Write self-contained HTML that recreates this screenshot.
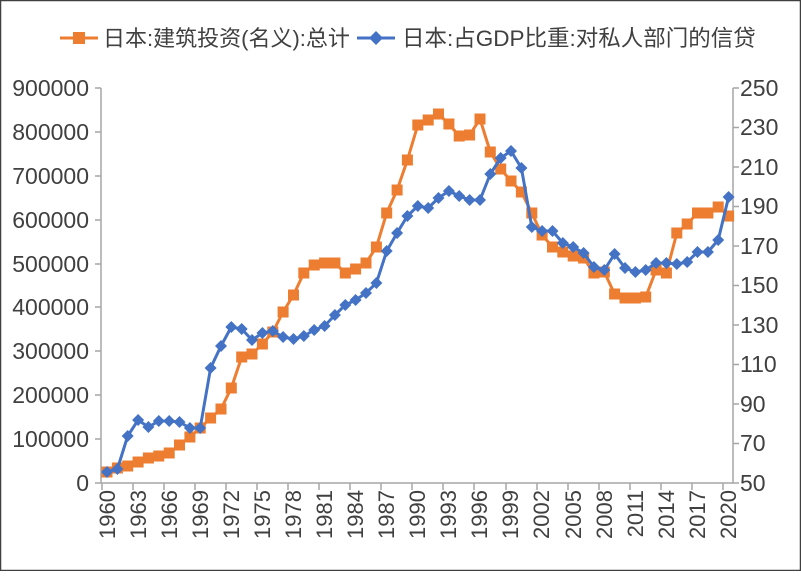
<!DOCTYPE html>
<html><head><meta charset="utf-8"><style>
body{margin:0;background:#fff}
svg text{font-family:"Liberation Sans","Noto Sans CJK SC",sans-serif;fill:#404040}
</style></head><body>
<svg width="801" height="571" viewBox="0 0 801 571" xmlns="http://www.w3.org/2000/svg">
<defs>
<marker id="sq" markerUnits="userSpaceOnUse" markerWidth="12" markerHeight="12" refX="6" refY="6" overflow="visible"><rect x="0.5" y="0.5" width="11" height="11" fill="#ED7D31"/></marker>
<marker id="dm" markerUnits="userSpaceOnUse" markerWidth="12" markerHeight="12" refX="6" refY="6" overflow="visible"><polygon points="6,0 12,6 6,12 0,6" fill="#4472C4"/></marker>
</defs>
<rect x="0.5" y="0.5" width="800" height="570" fill="#fff" stroke="#404040" stroke-width="1.5"/>
<!-- legend -->
<line x1="60" y1="38" x2="98" y2="38" stroke="#ED7D31" stroke-width="3"/>
<rect x="73" y="32" width="12" height="12" fill="#ED7D31"/>
<text x="103" y="46" font-size="22">日本:建筑投资(名义):总计</text>
<line x1="357" y1="38" x2="395" y2="38" stroke="#4472C4" stroke-width="3"/>
<polygon points="376,31 383,38 376,45 369,38" fill="#4472C4"/>
<text x="402" y="46" font-size="22.5">日本:占GDP比重:对私人部门的信贷</text>
<!-- axes -->
<g stroke="#a6a6a6" stroke-width="1.5" fill="none">
<line x1="101" y1="88" x2="101" y2="483"/>
<line x1="733" y1="88" x2="733" y2="483"/>
<line x1="101" y1="483" x2="733" y2="483"/>
<path d="M95 483H101M95 439H101M95 395H101M95 351H101M95 307H101M95 264H101M95 220H101M95 176H101M95 132H101M95 88H101"/>
<path d="M733 483H739M733 443.5H739M733 404H739M733 364.5H739M733 325H739M733 285.5H739M733 246H739M733 206.5H739M733 167H739M733 127.5H739M733 88H739"/>
<path d="M102 483V490M133 483V490M164 483V490M195 483V490M226 483V490M257 483V490M288 483V490M319 483V490M350 483V490M381 483V490M412 483V490M443 483V490M474 483V490M506 483V490M537 483V490M568 483V490M599 483V490M630 483V490M661 483V490M692 483V490M723 483V490"/>
</g>
<g font-size="23" text-anchor="end">
<text x="89" y="491">0</text><text x="89" y="447">100000</text><text x="89" y="403">200000</text><text x="89" y="359">300000</text><text x="89" y="315">400000</text><text x="89" y="272">500000</text><text x="89" y="228">600000</text><text x="89" y="184">700000</text><text x="89" y="140">800000</text><text x="89" y="96">900000</text>
</g>
<g font-size="23">
<text x="740" y="491">50</text><text x="740" y="451">70</text><text x="740" y="412">90</text><text x="740" y="372">110</text><text x="740" y="333">130</text><text x="740" y="293">150</text><text x="740" y="254">170</text><text x="740" y="214">190</text><text x="740" y="175">210</text><text x="740" y="135">230</text><text x="740" y="96">250</text>
</g>
<g font-size="22" text-anchor="end">
<text transform="translate(115,490) rotate(-90)">1960</text>
<text transform="translate(146,490) rotate(-90)">1963</text>
<text transform="translate(177,490) rotate(-90)">1966</text>
<text transform="translate(208,490) rotate(-90)">1969</text>
<text transform="translate(239,490) rotate(-90)">1972</text>
<text transform="translate(270,490) rotate(-90)">1975</text>
<text transform="translate(301,490) rotate(-90)">1978</text>
<text transform="translate(332,490) rotate(-90)">1981</text>
<text transform="translate(363,490) rotate(-90)">1984</text>
<text transform="translate(394,490) rotate(-90)">1987</text>
<text transform="translate(425,490) rotate(-90)">1990</text>
<text transform="translate(456,490) rotate(-90)">1993</text>
<text transform="translate(487,490) rotate(-90)">1996</text>
<text transform="translate(518,490) rotate(-90)">1999</text>
<text transform="translate(549,490) rotate(-90)">2002</text>
<text transform="translate(581,490) rotate(-90)">2005</text>
<text transform="translate(612,490) rotate(-90)">2008</text>
<text transform="translate(643,490) rotate(-90)">2011</text>
<text transform="translate(674,490) rotate(-90)">2014</text>
<text transform="translate(705,490) rotate(-90)">2017</text>
<text transform="translate(736,490) rotate(-90)">2020</text>
</g>
<polyline fill="none" stroke="#ED7D31" stroke-width="3" stroke-linejoin="round" marker-start="url(#sq)" marker-mid="url(#sq)" marker-end="url(#sq)" points="107,472 117.4,468 127.7,466 138.1,462 148.4,458 158.8,456 169.2,453 179.5,445 189.9,437 200.2,428 210.6,418 221,409 231.3,388 241.7,357 252,354 262.4,344 272.8,332 283.1,312 293.5,295 303.8,273 314.2,265 324.6,263 334.9,263 345.3,273 355.6,269 366,263 376.4,247 386.7,213 397.1,190 407.4,160 417.8,125 428.2,120 438.5,114 448.9,124 459.2,136 469.6,135 480,119 490.3,152 500.7,169 511,181 521.4,192 531.8,213 542.1,235 552.5,247 562.8,252 573.2,256 583.6,258 593.9,273 604.3,272 614.6,294 625,298 635.4,298 645.7,297 656.1,270 666.4,273 676.8,233 687.2,224 697.5,213 707.9,213 718.2,207 728.6,216"/>
<polyline fill="none" stroke="#4472C4" stroke-width="3" stroke-linejoin="round" marker-start="url(#dm)" marker-mid="url(#dm)" marker-end="url(#dm)" points="107,472 117.4,469 127.7,436 138.1,420 148.4,427 158.8,421 169.2,421 179.5,422 189.9,428 200.2,428 210.6,368 221,346 231.3,327 241.7,329 252,340 262.4,333 272.8,331 283.1,337 293.5,339 303.8,336 314.2,330 324.6,326 334.9,315 345.3,305 355.6,300 366,293 376.4,283 386.7,251 397.1,233 407.4,216 417.8,206 428.2,208 438.5,198 448.9,191 459.2,196 469.6,200 480,200 490.3,174 500.7,158 511,151 521.4,168 531.8,227 542.1,231 552.5,231 562.8,243 573.2,247 583.6,253 593.9,267 604.3,270 614.6,254 625,268 635.4,272 645.7,270 656.1,263 666.4,263 676.8,264 687.2,262 697.5,252 707.9,252 718.2,240 728.6,197"/>
</svg>
</body></html>
